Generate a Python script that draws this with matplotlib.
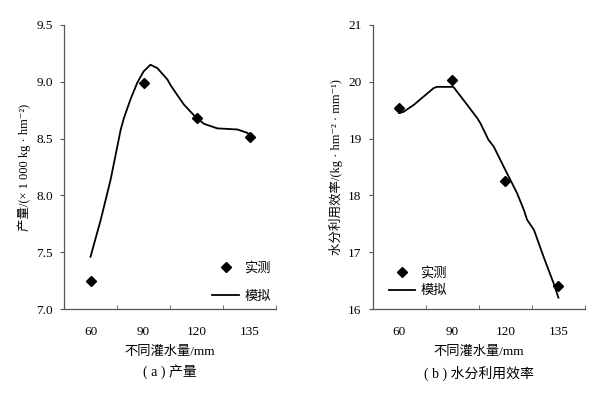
import matplotlib.pyplot as plt
from matplotlib.ticker import FixedLocator

FONT = ['Liberation Serif', 'Noto Sans CJK SC', 'DejaVu Sans']
plt.rcParams['font.family'] = FONT

# categories (irrigation amount, mm)
categories = ['60', '90', '120', '135']

# (a) yield, measured
yield_measured = [7.25, 8.99, 8.68, 8.51]
# (a) yield, simulated curve (x in category index units)
yield_sim_x = [0.0, 0.19, 0.38, 0.57, 0.63, 0.75, 0.88, 1.0, 1.13, 1.26, 1.45,
               1.51, 1.67, 1.76, 1.98, 2.14, 2.39, 2.77, 2.96, 3.0]
yield_sim_y = [7.46, 7.78, 8.14, 8.58, 8.68, 8.84, 8.99, 9.09, 9.15, 9.12, 9.02,
               8.97, 8.86, 8.80, 8.69, 8.63, 8.59, 8.58, 8.55, 8.53]

# (b) water use efficiency, measured
wue_measured = [19.54, 20.03, 18.25, 16.41]
# (b) water use efficiency, simulated curve
wue_sim_x = [0.0, 0.08, 0.27, 0.46, 0.65, 0.71, 1.02, 1.21, 1.47, 1.53, 1.68,
             1.78, 2.03, 2.22, 2.35, 2.41, 2.54, 2.72, 2.91, 3.0]
wue_sim_y = [19.45, 19.47, 19.59, 19.74, 19.89, 19.91, 19.91, 19.68, 19.36, 19.27, 18.98,
             18.86, 18.39, 18.04, 17.74, 17.57, 17.39, 16.92, 16.45, 16.2]

fig = plt.figure(figsize=(6.06, 3.94), dpi=100)
ax1 = fig.add_axes([0.1056, 0.2157, 0.35, 0.721])
ax2 = fig.add_axes([0.615, 0.2157, 0.3503, 0.721])

xs = list(range(len(categories)))


def style(ax, ylim, yticks, ylabel):
    ax.set_xlim(-0.5, 3.5)
    ax.set_ylim(*ylim)
    for s in ['top', 'right']:
        ax.spines[s].set_visible(False)
    for s in ['left', 'bottom']:
        ax.spines[s].set_color('#555555')
        ax.spines[s].set_linewidth(0.9)
    ax.set_xticks(xs)
    ax.set_xticklabels(categories, fontsize=9.5)
    ax.tick_params(axis='x', which='major', length=0, pad=12)
    ax.xaxis.set_minor_locator(FixedLocator([-0.5, 0.5, 1.5, 2.5, 3.5]))
    ax.tick_params(axis='x', which='minor', direction='in', length=3, color='#555555')
    ax.set_yticks(yticks)
    ax.tick_params(axis='y', direction='out', length=3, pad=5, labelsize=9.5, color='#555555')
    ax.set_xlabel('不同灌水量/mm', fontsize=9.5, labelpad=6)
    ax.set_ylabel(ylabel, fontsize=9, labelpad=4)


# panel (a)
ax1.plot(yield_sim_x, yield_sim_y, color='black', lw=1.3, label='模拟',
         solid_joinstyle='round')
ax1.plot(xs, yield_measured, 'D', color='black', ms=5, ls='none', label='实测')
style(ax1, (7.0, 9.5), [7.0, 7.5, 8.0, 8.5, 9.0, 9.5],
      '产量/(× 1 000 kg · hm⁻²)')
ax1.set_yticklabels(['7.0', '7.5', '8.0', '8.5', '9.0', '9.5'])
h, l = ax1.get_legend_handles_labels()
ax1.legend(h[::-1], l[::-1], loc='lower right', bbox_to_anchor=(1.03, -0.02),
           frameon=False, fontsize=9.5, handlelength=2.0, labelspacing=1.2,
           handletextpad=0.4)

# panel (b)
ax2.plot(wue_sim_x, wue_sim_y, color='black', lw=1.3, label='模拟',
         solid_joinstyle='round')
ax2.plot(xs, wue_measured, 'D', color='black', ms=5, ls='none', label='实测')
style(ax2, (16, 21), [16, 17, 18, 19, 20, 21],
      '水分利用效率/(kg · hm⁻² · mm⁻¹)')
h, l = ax2.get_legend_handles_labels()
ax2.legend(h[::-1], l[::-1], loc='lower left', bbox_to_anchor=(0.02, 0.0),
           frameon=False, fontsize=9.5, handlelength=2.0, labelspacing=0.4,
           handletextpad=0.4)

fig.text(0.2806, 0.045, '( a ) 产量', ha='center', fontsize=10)
fig.text(0.79, 0.042, '( b ) 水分利用效率', ha='center', fontsize=10)

fig.savefig('out.png', dpi=100)
